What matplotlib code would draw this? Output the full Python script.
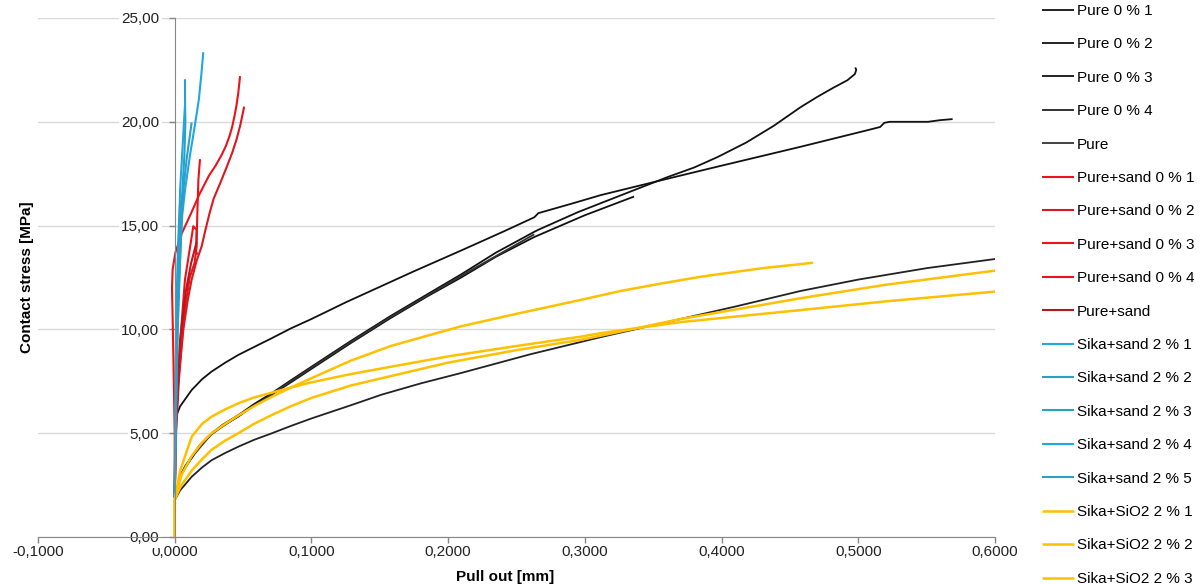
import matplotlib
matplotlib.use('Agg')
import matplotlib.pyplot as plt
from matplotlib.ticker import FuncFormatter, MultipleLocator

plt.rcParams['font.family'] = ['Liberation Sans', 'DejaVu Sans']

# Pull-out test curves: x = pull out [mm], y = contact stress [MPa]
pure_1_x = [0, 0.004, 0.008, 0.0124, 0.018, 0.027, 0.035, 0.0465, 0.058, 0.0708, 0.085, 0.1,
            0.129, 0.158, 0.185, 0.2095, 0.235, 0.263, 0.266, 0.295, 0.326, 0.3606, 0.38,
            0.397, 0.418, 0.438, 0.4577, 0.47, 0.482, 0.492, 0.4975, 0.4985, 0.4978]
pure_1_y = [1.9, 2.95, 3.45, 3.87, 4.4, 5.0, 5.4, 5.87, 6.4, 6.92, 7.55, 8.2,
            9.45, 10.65, 11.7, 12.65, 13.7, 14.7, 14.8, 15.65, 16.45, 17.34, 17.8,
            18.3, 19.0, 19.8, 20.7, 21.2, 21.65, 22.0, 22.3, 22.5, 22.62]
pure_2_x = [0, 0.0003, 0.004, 0.0124, 0.02, 0.027, 0.037, 0.0465, 0.058, 0.0708, 0.085, 0.1,
            0.125, 0.15, 0.175, 0.2095, 0.24, 0.263, 0.266, 0.29, 0.3117, 0.36, 0.397,
            0.458, 0.507, 0.516, 0.519, 0.523, 0.551, 0.56, 0.569]
pure_2_y = [1.9, 5.7, 6.3, 7.08, 7.6, 7.97, 8.4, 8.77, 9.15, 9.57, 10.05, 10.5,
            11.3, 12.05, 12.8, 13.8, 14.7, 15.4, 15.6, 16.05, 16.47, 17.25, 17.84,
            18.8, 19.6, 19.75, 19.95, 20.0, 20.0, 20.08, 20.13]
pure_3_x = [0, 0.004, 0.008, 0.0124, 0.018, 0.027, 0.035, 0.0465, 0.058, 0.0708, 0.085, 0.1,
            0.129, 0.158, 0.185, 0.2095, 0.235, 0.263, 0.3, 0.336]
pure_3_y = [1.9, 2.9, 3.4, 3.8, 4.35, 4.95, 5.35, 5.8, 6.35, 6.85, 7.45, 8.1,
            9.35, 10.55, 11.6, 12.5, 13.5, 14.45, 15.5, 16.4]
pure_4_x = [0, 0.004, 0.0124, 0.02, 0.027, 0.037, 0.0465, 0.058, 0.0708, 0.085, 0.1, 0.129,
            0.151, 0.18, 0.2095, 0.26, 0.3117, 0.3606, 0.41, 0.4577, 0.5, 0.55, 0.6]
pure_4_y = [1.78, 2.25, 2.9, 3.35, 3.7, 4.05, 4.35, 4.68, 4.99, 5.35, 5.71, 6.35,
            6.85, 7.4, 7.9, 8.8, 9.63, 10.36, 11.1, 11.85, 12.4, 12.95, 13.39]
pure_x = [0, 0.004, 0.0124, 0.027, 0.0465, 0.0708, 0.1, 0.129, 0.158, 0.2095, 0.263]
pure_y = [1.88, 2.92, 3.84, 4.97, 5.83, 6.88, 8.15, 9.4, 10.6, 12.58, 14.58]

sand_1_x = [0, 0, -0.0008, -0.0015, -0.002, -0.0015, 0.0005, 0.005, 0.012, 0.018, 0.025,
            0.03, 0.0343, 0.0375, 0.04, 0.042, 0.0438, 0.0452, 0.0465, 0.0478]
sand_1_y = [1.9, 5.0, 8.0, 10.5, 12.0, 12.9, 13.7, 14.6, 15.6, 16.5, 17.4,
            17.9, 18.4, 18.85, 19.3, 19.75, 20.3, 20.8, 21.4, 22.2]
sand_2_x = [0, 0.0005, 0.003, 0.0063, 0.0095, 0.0124, 0.016, 0.0197, 0.0225, 0.0255, 0.0285,
            0.033, 0.0379, 0.042, 0.0452, 0.048, 0.0508]
sand_2_y = [1.9, 5.6, 7.8, 10.0, 11.4, 12.4, 13.3, 14.0, 14.8, 15.6, 16.3,
            17.0, 17.8, 18.5, 19.15, 19.85, 20.73]
sand_3_x = [0, 0.001, 0.003, 0.007, 0.011, 0.0145, 0.016, 0.0165, 0.0173, 0.0185]
sand_3_y = [1.9, 5.0, 7.5, 10.8, 12.5, 13.2, 14.0, 15.5, 17.2, 18.2]
sand_4_x = [0, 0.001, 0.0035, 0.0075, 0.0136, 0.016, 0.0156, 0.0166]
sand_4_y = [1.9, 5.5, 9.0, 12.4, 14.97, 14.8, 13.75, 13.6]
sand_x = [0, 0.001, 0.004, 0.008, 0.012, 0.016]
sand_y = [1.9, 5.5, 9.5, 11.8, 13.2, 14.2]

sika_1_x = [0, 0.0008, 0.002, 0.0035, 0.0055, 0.0075, 0.0112, 0.0148, 0.0177, 0.0195, 0.0209]
sika_1_y = [1.9, 6, 10, 13, 15.5, 16.7, 18.4, 19.85, 21.1, 22.3, 23.35]
sika_2_x = [0, 0.0008, 0.0018, 0.003, 0.0045, 0.0056, 0.0071, 0.0078, 0.0076, 0.0075]
sika_2_y = [1.9, 6, 10, 13, 15.5, 16.7, 18.4, 20.0, 20.8, 22.05]
sika_3_x = [0, 0.001, 0.0022, 0.0038, 0.0052, 0.0063, 0.0087, 0.0124]
sika_3_y = [1.9, 6, 10, 13, 15.5, 16.7, 18.2, 19.97]
sika_4_x = [0, 0.0005, 0.0012, 0.0025, 0.0035, 0.0039, 0.0055, 0.0068, 0.0075]
sika_4_y = [1.9, 6, 10, 13, 15.5, 16.7, 18.5, 20.0, 20.8]
sika_5_x = [0, 0.0004, 0.001, 0.002, 0.003, 0.004]
sika_5_y = [1.9, 6, 10, 13, 15, 16.2]

sio2_1_x = [0, 0, 0.005, 0.0124, 0.02, 0.027, 0.037, 0.0465, 0.058, 0.0708, 0.085, 0.1,
            0.129, 0.158, 0.185, 0.2095, 0.25, 0.297, 0.326, 0.355, 0.385, 0.43, 0.467]
sio2_1_y = [0, 1.8, 3.0, 3.9, 4.55, 5.0, 5.45, 5.85, 6.3, 6.75, 7.2, 7.65,
            8.5, 9.2, 9.7, 10.15, 10.75, 11.42, 11.85, 12.2, 12.54, 12.95, 13.21]
sio2_2_x = [0, 0, 0.004, 0.0124, 0.02, 0.027, 0.037, 0.0465, 0.058, 0.0708, 0.085, 0.1,
            0.129, 0.158, 0.2, 0.25, 0.297, 0.3117, 0.37, 0.4577, 0.52, 0.6]
sio2_2_y = [0, 1.8, 2.4, 3.2, 3.75, 4.2, 4.65, 5.0, 5.45, 5.87, 6.3, 6.7,
            7.3, 7.75, 8.4, 9.0, 9.5, 9.7, 10.5, 11.5, 12.15, 12.83]
sio2_3_x = [0, 0, 0.004, 0.0124, 0.02, 0.027, 0.037, 0.0465, 0.058, 0.0708, 0.085, 0.1,
            0.129, 0.158, 0.2, 0.25, 0.297, 0.3117, 0.37, 0.4577, 0.52, 0.6]
sio2_3_y = [0, 1.8, 3.2, 4.83, 5.45, 5.8, 6.15, 6.44, 6.72, 6.95, 7.2, 7.45,
            7.85, 8.2, 8.7, 9.2, 9.65, 9.82, 10.35, 10.93, 11.35, 11.82]

BLACK = '#111111'
RED = '#e8141b'
BLUE = '#1ea7e0'
TEAL = '#2a9fc8'
GOLD = '#ffc000'

series = [
    ('Pure 0 % 1', pure_1_x, pure_1_y, BLACK, 1.3),
    ('Pure 0 % 2', pure_2_x, pure_2_y, BLACK, 1.3),
    ('Pure 0 % 3', pure_3_x, pure_3_y, BLACK, 1.3),
    ('Pure 0 % 4', pure_4_x, pure_4_y, '#222222', 1.3),
    ('Pure', pure_x, pure_y, '#333333', 1.3),
    ('Pure+sand 0 % 1', sand_1_x, sand_1_y, RED, 1.5),
    ('Pure+sand 0 % 2', sand_2_x, sand_2_y, '#d81920', 1.5),
    ('Pure+sand 0 % 3', sand_3_x, sand_3_y, RED, 1.5),
    ('Pure+sand 0 % 4', sand_4_x, sand_4_y, RED, 1.5),
    ('Pure+sand', sand_x, sand_y, '#b8161c', 1.5),
    ('Sika+sand 2 % 1', sika_1_x, sika_1_y, BLUE, 1.5),
    ('Sika+sand 2 % 2', sika_2_x, sika_2_y, TEAL, 1.5),
    ('Sika+sand 2 % 3', sika_3_x, sika_3_y, TEAL, 1.5),
    ('Sika+sand 2 % 4', sika_4_x, sika_4_y, BLUE, 1.5),
    ('Sika+sand 2 % 5', sika_5_x, sika_5_y, TEAL, 1.5),
    ('Sika+SiO2 2 % 1', sio2_1_x, sio2_1_y, GOLD, 1.8),
    ('Sika+SiO2 2 % 2', sio2_2_x, sio2_2_y, GOLD, 1.8),
    ('Sika+SiO2 2 % 3', sio2_3_x, sio2_3_y, GOLD, 1.8),
]

fig = plt.figure(figsize=(12, 5.84), dpi=100)
ax = fig.add_axes([38 / 1200, 1 - 537 / 584, (995 - 38) / 1200, (537 - 18) / 584])

for label, xs, ys, color, lw in series:
    ax.plot(xs, ys, color=color, lw=lw, label=label, solid_capstyle='butt',
            solid_joinstyle='round')

ax.set_xlim(-0.1, 0.6)
ax.set_ylim(0, 25)
ax.xaxis.set_major_locator(MultipleLocator(0.1))
ax.yaxis.set_major_locator(MultipleLocator(5))
ax.xaxis.set_major_formatter(FuncFormatter(lambda v, p: f'{v:.4f}'.replace('.', ',').replace('-0,0000', '0,0000')))
ax.yaxis.set_major_formatter(FuncFormatter(lambda v, p: f'{v:.2f}'.replace('.', ',')))

# horizontal gridlines only, value axis drawn at x = 0
ax.grid(axis='y', color='#d9d9d9', lw=1)
ax.set_axisbelow(True)
ax.spines['left'].set_position(('data', 0))
ax.spines['left'].set_color('#868686')
ax.spines['bottom'].set_color('#868686')
ax.spines['top'].set_visible(False)
ax.spines['right'].set_visible(False)
ax.tick_params(axis='both', colors='#868686', labelcolor='#222222', labelsize=11, length=4, width=1)
ax.tick_params(axis='x', pad=1.5)
ax.tick_params(axis='y', pad=7)

# value labels sit on a white patch over the gridlines
for lbl in ax.yaxis.get_majorticklabels():
    lbl.set_bbox(dict(facecolor='white', edgecolor='none', pad=1.5))

ax.set_xlabel('Pull out [mm]', fontsize=11, fontweight='bold')
ax.xaxis.set_label_coords((505 - 38) / 957, -(570 - 537) / 519)
fig.text(27 / 1200, 0.5 + (292 - 277) / 584, 'Contact stress [MPa]', rotation=90,
         ha='center', va='center', fontsize=11, fontweight='bold')

fig.legend(loc='upper left', bbox_to_anchor=(1042 / 1200, 1 - 4 / 584), frameon=False,
           fontsize=11, handlelength=2.1, handletextpad=0.2, labelspacing=1.27,
           borderpad=0, borderaxespad=0)

fig.savefig('out.png', dpi=100)
